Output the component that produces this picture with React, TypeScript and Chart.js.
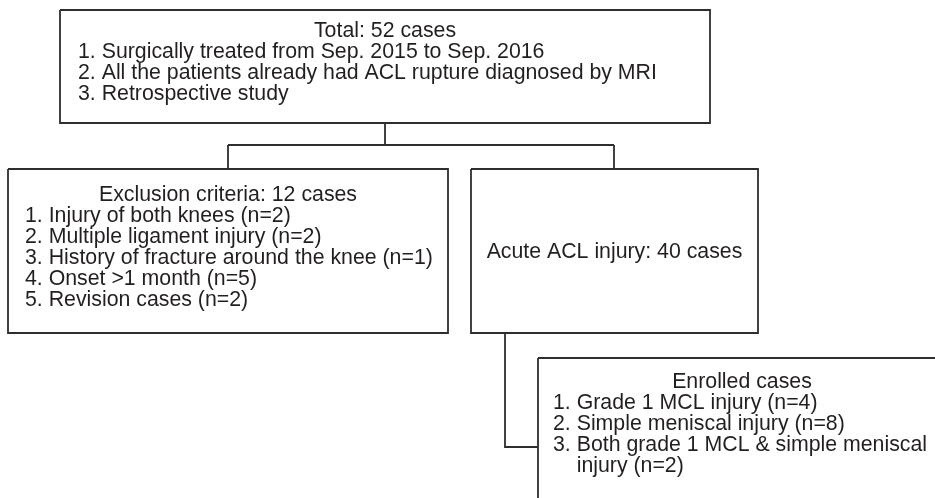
import React, { useEffect, useRef } from "react";
import { Chart, registerables } from "chart.js";

Chart.register(...registerables);

const W = 935;
const H = 498;

// ---- content ----
const totalTitle = "Total: 52 cases";
const totalItems = [
  "1. Surgically treated from Sep. 2015 to Sep. 2016",
  "2. All the patients already had ACL rupture diagnosed by MRI",
  "3. Retrospective study",
];
const exclusionTitle = "Exclusion criteria: 12 cases";
const exclusionItems = [
  "1. Injury of both knees (n=2)",
  "2. Multiple ligament injury (n=2)",
  "3. History of fracture around the knee (n=1)",
  "4. Onset >1 month (n=5)",
  "5. Revision cases (n=2)",
];
const acuteTitle = "Acute ACL injury: 40 cases";
const enrolledTitle = "Enrolled cases";
const enrolledItems = [
  "1. Grade 1 MCL injury (n=4)",
  "2. Simple meniscal injury (n=8)",
  "3. Both grade 1 MCL & simple meniscal",
  "injury (n=2)",
];

// ---- layout (in chart units: x 0..935, y 0..498 top-down) ----
const boxTop = { x0: 60, y0: 10, x1: 710, y1: 123 };
const boxExcl = { x0: 8, y0: 169, x1: 448, y1: 333 };
const boxAcute = { x0: 471, y0: 169, x1: 758, y1: 333 };
const boxEnrolled = { x0: 538, y0: 358, x1: 946, y1: 515 };
const boxes = [boxTop, boxExcl, boxAcute, boxEnrolled];

const connectors = [
  [[385, 123], [385, 145]],
  [[228, 145], [614, 145]],
  [[228, 145], [228, 169]],
  [[614, 145], [614, 169]],
  [[505, 333], [505, 447], [538, 447]],
];

const LINE = 21;
const FONT = '21.3px "Liberation Sans", Arial, Helvetica, sans-serif';
const TEXT_COLOR = "#231f20";
const STROKE = "#2e2e2e";

function boxPath(b: { x0: number; y0: number; x1: number; y1: number }) {
  return [
    { x: b.x0, y: b.y0 },
    { x: b.x1, y: b.y0 },
    { x: b.x1, y: b.y1 },
    { x: b.x0, y: b.y1 },
    { x: b.x0, y: b.y0 },
  ];
}

const textPlugin = {
  id: "flowText",
  afterDatasetsDraw(chart: any) {
    const { ctx, scales } = chart;
    const px = (v: number) => scales.x.getPixelForValue(v);
    const py = (v: number) => scales.y.getPixelForValue(v);
    ctx.save();
    ctx.font = FONT;
    ctx.fillStyle = TEXT_COLOR;
    ctx.textBaseline = "alphabetic";

    // top box
    ctx.textAlign = "center";
    ctx.fillText(totalTitle, px((boxTop.x0 + boxTop.x1) / 2), py(boxTop.y0 + 27));
    ctx.textAlign = "left";
    totalItems.forEach((t, i) => {
      ctx.fillText(t, px(boxTop.x0 + 18), py(boxTop.y0 + 27 + LINE * (i + 1)));
    });

    // exclusion box
    ctx.textAlign = "center";
    ctx.fillText(exclusionTitle, px((boxExcl.x0 + boxExcl.x1) / 2), py(boxExcl.y0 + 32));
    ctx.textAlign = "left";
    exclusionItems.forEach((t, i) => {
      ctx.fillText(t, px(boxExcl.x0 + 17), py(boxExcl.y0 + 32 + LINE * (i + 1)));
    });

    // acute box
    ctx.textAlign = "center";
    ctx.fillText(acuteTitle, px((boxAcute.x0 + boxAcute.x1) / 2), py((boxAcute.y0 + boxAcute.y1) / 2 + 7));

    // enrolled box
    ctx.fillText(enrolledTitle, px((boxEnrolled.x0 + boxEnrolled.x1) / 2), py(boxEnrolled.y0 + 30));
    ctx.textAlign = "left";
    const indent = ctx.measureText("3. ").width;
    enrolledItems.forEach((t, i) => {
      const x = px(boxEnrolled.x0 + 15) + (i === enrolledItems.length - 1 ? indent : 0);
      ctx.fillText(t, x, py(boxEnrolled.y0 + 30 + LINE * (i + 1)));
    });
    ctx.restore();
  },
};

export default function App() {
  const ref = useRef<HTMLCanvasElement | null>(null);
  useEffect(() => {
    document.body.style.margin = "0";
    const canvas = ref.current;
    if (!canvas) return;
    const datasets: any[] = [];
    boxes.forEach((b) => {
      datasets.push({
        data: boxPath(b),
        showLine: true,
        pointRadius: 0,
        borderColor: STROKE,
        borderWidth: 1.8,
        tension: 0,
        fill: false,
      });
    });
    connectors.forEach((c) => {
      datasets.push({
        data: c.map(([x, y]) => ({ x, y })),
        showLine: true,
        pointRadius: 0,
        borderColor: STROKE,
        borderWidth: 1.8,
        tension: 0,
        fill: false,
      });
    });
    const chart = new Chart(canvas, {
      type: "scatter",
      data: { datasets },
      options: {
        animation: false,
        responsive: false,
        maintainAspectRatio: false,
        layout: { padding: 0 },
        plugins: { legend: { display: false }, tooltip: { enabled: false } },
        events: [],
        scales: {
          x: { type: "linear", min: 0, max: W, display: false },
          y: { type: "linear", min: 0, max: H, reverse: true, display: false },
        },
      },
      plugins: [textPlugin],
    });
    return () => chart.destroy();
  }, []);
  return (
    <div style={{ width: W, height: H, background: "#fff" }}>
      <canvas ref={ref} width={W} height={H} style={{ display: "block" }} />
    </div>
  );
}
